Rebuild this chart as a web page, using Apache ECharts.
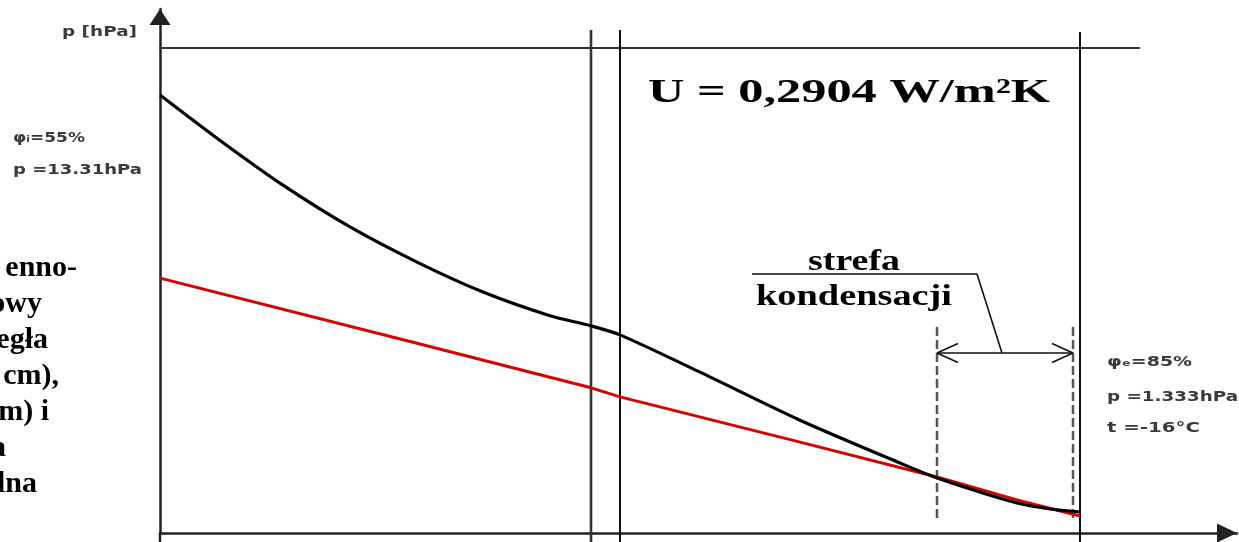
<!DOCTYPE html>
<html>
<head>
<meta charset="utf-8">
<script src="https://cdn.jsdelivr.net/npm/echarts@6/dist/echarts.min.js"></script>
<style>
  html, body { margin: 0; padding: 0; background: #ffffff; }
  #chart { width: 1239px; height: 542px; }
</style>
</head>
<body>
<div id="chart"></div>
<script>
// Depth through the wall (x units) and partial vapour pressure p [hPa]
const depth = [0, 5.7, 12.3, 19.0, 25.7, 32.3, 39.0, 43.1, 46.0, 54.0, 64.0, 74.0, 77.7, 85.7, 89.0, 92.0];
const vapourPressure = [13.31, 12.07, 10.72, 9.52, 8.51, 7.65, 6.97, 6.68, 6.42, 5.35, 3.97, 2.74, 2.31, 1.59, 1.42, 1.333];

// Saturation vapour pressure along the same depth
const satDepth = [0, 25.0, 43.1, 46.0, 64.0, 77.7, 85.7, 92.0];
const saturationPressure = [8.05, 6.23, 4.90, 4.64, 3.34, 2.34, 1.68, 1.22];

// Layer boundaries and the condensation zone (x units)
const layerBounds = [43.1, 46.0, 92.0];
const condensationZone = [77.7, 91.3];

// Axis extents
const xRange = [0, 107.7];
const pRange = [0.73, 15.78];

// Guide line extents (data units)
const pBelowAxis = 0.47;
const pLayerTop = 15.18;
const pTopLine = 14.66;
const topLineSpan = [-1.8, 98.0];
const pZoneTop = 6.65;
const pZoneBottom = 1.05;
const pZoneArrow = 5.90;
const pLeader = 8.17;
const leaderX = [84.2, 81.7, 59.2];

// Labels
const leftLabels = ['\u03C6\u1D62=55%', 'p =13.31hPa'];
const rightLabels = ['\u03C6\u2091=85%', 'p =1.333hPa', 't =-16\u00B0C'];
const sideText = ['enno-', 'owy', 'egła', 'cm),', 'm) i', 'a', 'lna'];
const uValue = 'U = 0,2904 W/m\u00B2K';
const zoneText = ['strefa', 'kondensacji'];
const axisName = 'p [hPa]';

const zip = (xs, ys) => xs.map((x, i) => [x, ys[i]]);

const guide = (name, data, style, z) => ({
  name, type: 'line', data, clip: false, silent: true, symbol: 'none',
  lineStyle: style, z: z || 2, animation: false
});

const series = [];

// p axis continues a little below the depth axis
series.push(guide('axisExt', [[0, pRange[0]], [0, pBelowAxis]], { color: '#222', width: 2.5 }));

// horizontal reference line at the top
series.push(guide('topLine', [[topLineSpan[0], pTopLine], [topLineSpan[1], pTopLine]], { color: '#333', width: 2 }));

// layer boundaries
layerBounds.forEach((b, i) => {
  series.push(guide('layer' + i, [[b, pBelowAxis], [b, i === 2 ? pLayerTop - 0.06 : pLayerTop]],
    { color: i === 0 ? '#333' : '#111', width: i === 0 ? 2.6 : 2 }));
});

// condensation zone limits (dashed)
condensationZone.forEach((c, i) => {
  series.push(guide('zone' + i, [[c, pZoneTop], [c, pZoneBottom]],
    { color: '#555', width: 2.5, type: [9, 4] }, 3));
});

// dimension arrow across the zone
const aLen = 2.1, aHalf = 0.27;
series.push(guide('zoneArrow', [[condensationZone[0], pZoneArrow], [condensationZone[1], pZoneArrow]], { color: '#111', width: 1.6 }, 4));
series.push(guide('arrowL', [[condensationZone[0] + aLen, pZoneArrow + aHalf], [condensationZone[0], pZoneArrow], [condensationZone[0] + aLen, pZoneArrow - aHalf]], { color: '#111', width: 1.6 }, 4));
series.push(guide('arrowR', [[condensationZone[1] - aLen, pZoneArrow + aHalf], [condensationZone[1], pZoneArrow], [condensationZone[1] - aLen, pZoneArrow - aHalf]], { color: '#111', width: 1.6 }, 4));

// leader line to the zone caption
series.push(guide('leader', [[leaderX[0], pZoneArrow], [leaderX[1], pLeader], [leaderX[2], pLeader]], { color: '#111', width: 1.6 }, 4));

// saturation pressure (red) and partial pressure (black)
series.push({
  name: 'ps', type: 'line', data: zip(satDepth, saturationPressure), symbol: 'none', clip: false,
  lineStyle: { color: '#d40000', width: 3 }, z: 5, animation: false
});
series.push({
  name: 'p', type: 'line', data: zip(depth, vapourPressure), symbol: 'none', clip: false,
  smooth: 0.25,
  lineStyle: { color: '#000', width: 3.2 }, z: 6, animation: false
});

// text fitting helper
const mctx = document.createElement('canvas').getContext('2d');
function textWidth(text, weight, size, family) {
  mctx.font = weight + ' ' + size + 'px ' + family;
  return mctx.measureText(text).width;
}
function label(text, x, y, opts) {
  const weight = opts.weight || 'normal';
  const size = opts.size;
  const family = opts.family;
  const align = opts.align || 'left';
  let sx = 1;
  if (opts.width) sx = opts.width / textWidth(text, weight, size, family);
  return {
    type: 'text', x, y, scaleX: sx, silent: true, z: 10,
    style: {
      text, fill: opts.color || '#000',
      fontSize: size, fontFamily: family, fontWeight: weight,
      textAlign: align, align: align,
      textVerticalAlign: 'middle', verticalAlign: 'middle'
    }
  };
}

const sans = '"DejaVu Sans"';
const serif = '"Liberation Serif"';
const grey = '#3a3a3a';

const graphics = [];
const small = { size: 14, family: sans, color: grey, weight: 'bold' };
graphics.push(label(axisName, 137, 32, Object.assign({}, small, { align: 'right', width: 75 })));
graphics.push(label(leftLabels[0], 13, 138, Object.assign({}, small, { width: 72 })));
graphics.push(label(leftLabels[1], 13, 170, Object.assign({}, small, { width: 129 })));
graphics.push(label(rightLabels[0], 1107, 362, Object.assign({}, small, { width: 85 })));
graphics.push(label(rightLabels[1], 1107, 397, Object.assign({}, small, { width: 131 })));
graphics.push(label(rightLabels[2], 1107, 428, Object.assign({}, small, { width: 93 })));
graphics.push(label(uValue, 648, 93, { size: 33, family: serif, weight: 'bold', width: 402 }));
graphics.push(label(zoneText[0], 854, 262, { size: 30, family: serif, weight: 'bold', align: 'center', width: 92 }));
graphics.push(label(zoneText[1], 854, 297, { size: 30, family: serif, weight: 'bold', align: 'center', width: 196 }));

const sideRight = [77, 42, 48, 59, 49, 6, 37];
sideText.forEach((t, i) => {
  graphics.push(label(t, sideRight[i], 268 + i * 36, { size: 30, family: serif, weight: 'bold', align: 'right' }));
});

const chart = echarts.init(document.getElementById('chart'), null, { renderer: 'canvas' });
chart.setOption({
  animation: false,
  backgroundColor: '#ffffff',
  grid: { left: 160, right: 2, top: 9, bottom: 9, containLabel: false },
  xAxis: {
    type: 'value', min: xRange[0], max: xRange[1],
    axisLine: {
      onZero: false, show: true,
      lineStyle: { color: '#222', width: 2.5 },
      symbol: ['none', 'triangle'], symbolSize: [19, 20], symbolOffset: [0, -10]
    },
    axisTick: { show: false }, axisLabel: { show: false }, splitLine: { show: false }
  },
  yAxis: {
    type: 'value', min: pRange[0], max: pRange[1],
    axisLine: {
      onZero: false, show: true,
      lineStyle: { color: '#222', width: 2.5 },
      symbol: ['none', 'triangle'], symbolSize: [21, 16], symbolOffset: [0, -8]
    },
    axisTick: { show: false }, axisLabel: { show: false }, splitLine: { show: false }
  },
  series,
  graphic: { elements: graphics }
});
</script>
</body>
</html>
